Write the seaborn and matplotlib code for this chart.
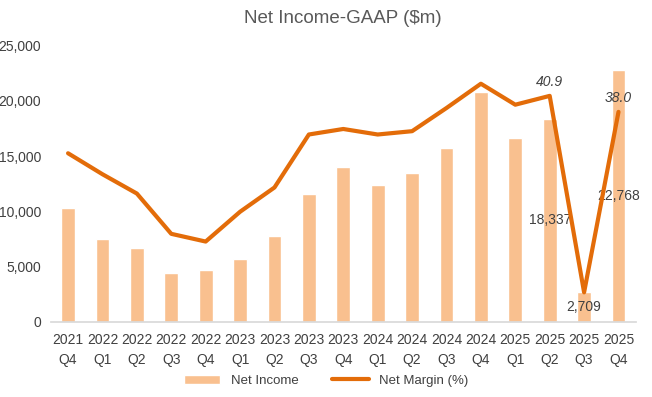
import numpy as np
import pandas as pd
import matplotlib
matplotlib.use("Agg")
import matplotlib.pyplot as plt
import seaborn as sns

# --- Data ---
quarters = ["2021\nQ4", "2022\nQ1", "2022\nQ2", "2022\nQ3", "2022\nQ4",
            "2023\nQ1", "2023\nQ2", "2023\nQ3", "2023\nQ4", "2024\nQ1",
            "2024\nQ2", "2024\nQ3", "2024\nQ4", "2025\nQ1", "2025\nQ2",
            "2025\nQ3", "2025\nQ4"]
net_income = [10285, 7465, 6687, 4395, 4652, 5709, 7788, 11583, 14017, 12369,
              13465, 15688, 20838, 16644, 18337, 2709, 22768]
net_margin = [30.5, 26.7, 23.2, 15.9, 14.5, 19.9, 24.3, 33.9, 34.9, 33.9,
              34.5, 38.7, 43.1, 39.3, 40.9, 5.3, 38.0]
bar_labelled = [14, 15, 16]   # quarters with income labels
line_labelled = [14, 16]      # quarters with margin labels

BAR_COLOR = "#F9C08F"
LINE_COLOR = "#E36C09"
TEXT_COLOR = "#404040"

sns.set_theme(style="white")
plt.rcParams["font.family"] = ["Liberation Sans", "DejaVu Sans"]
plt.rcParams["text.color"] = TEXT_COLOR
plt.rcParams["xtick.color"] = TEXT_COLOR
plt.rcParams["ytick.color"] = TEXT_COLOR

df = pd.DataFrame({"quarter": quarters, "income": net_income, "margin": net_margin})
pos = np.arange(len(quarters))

fig, ax = plt.subplots(figsize=(6.52, 3.97), dpi=100)
fig.subplots_adjust(left=0.078, right=0.975, top=0.885, bottom=0.19)

sns.barplot(data=df, x="quarter", y="income", color=BAR_COLOR, saturation=1,
            width=0.4, ax=ax, label="Net Income")
h1, l1 = ax.get_legend_handles_labels()
if ax.get_legend() is not None:
    ax.get_legend().remove()

ax.set_ylim(0, 25000)
ax.set_yticks(np.arange(0, 25001, 5000))
ax.yaxis.set_major_formatter(matplotlib.ticker.FuncFormatter(lambda v, _: f"{int(v):,}"))
ax.set_xlim(-0.5, len(quarters) - 0.5)
ax.set_xlabel("")
ax.set_ylabel("")
ax.tick_params(axis="y", labelsize=10, length=0, pad=7)
ax.tick_params(axis="x", labelsize=10, length=0, pad=8)
for lbl in ax.get_xticklabels():
    lbl.set_linespacing(1.55)
for s in ["top", "right", "left"]:
    ax.spines[s].set_visible(False)
ax.spines["bottom"].set_color("#D9D9D9")

# income labels in the middle of the last bars
for i in bar_labelled:
    ax.text(pos[i], net_income[i] / 2, f"{net_income[i]:,}", ha="center",
            va="center", fontsize=10, color=TEXT_COLOR)

ax2 = ax.twinx()
sns.lineplot(x=pos, y=df["margin"], color=LINE_COLOR, linewidth=3, ax=ax2,
             label="Net Margin (%)", legend=False)
h2, l2 = ax2.get_legend_handles_labels()
ax2.set_ylim(0, 50)
ax2.set_yticks([])
ax2.set_ylabel("")
for s in ["top", "right", "left", "bottom"]:
    ax2.spines[s].set_visible(False)

for i in line_labelled:
    ax2.text(pos[i], net_margin[i] + 1.3, f"{net_margin[i]:.1f}", ha="center",
             va="bottom", fontsize=10, style="italic", color=TEXT_COLOR)

ax.set_title("Net Income-GAAP ($m)", fontsize=13.5, color="#595959", pad=16)

fig.legend(h1 + h2, l1 + l2, loc="lower center", ncol=2, frameon=False,
           fontsize=9.5, bbox_to_anchor=(0.5, -0.005), handlelength=2.8,
           columnspacing=2.5)

fig.savefig("out.png", dpi=100)
